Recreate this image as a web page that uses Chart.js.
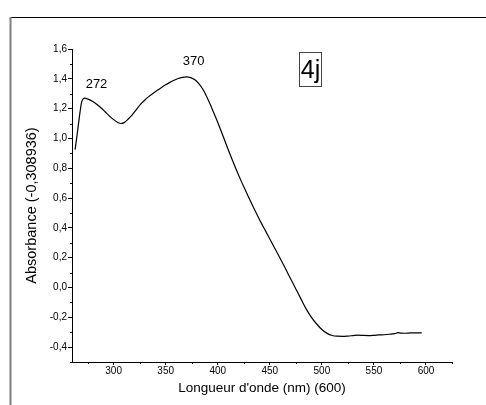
<!DOCTYPE html>
<html>
<head>
<meta charset="utf-8">
<script src="https://cdn.jsdelivr.net/npm/chart.js@4/dist/chart.umd.min.js"></script>
<style>
  html, body { margin: 0; padding: 0; background: #fff; }
  #wrap { width: 486px; height: 405px; position: relative; }
</style>
</head>
<body>
<div id="wrap"><canvas id="c" width="486" height="405"></canvas></div>
<script>
// UV-Vis spectrum of compound 4j
const wavelengths = [
  263, 265, 267, 269, 270, 272, 276, 280, 284, 288, 292, 296, 300, 304, 307,
  310, 314, 318, 322, 326, 330, 334, 338, 342, 346, 350, 354, 358, 362, 366,
  370, 374, 378, 382, 386, 390, 394, 398, 402, 406, 410, 414, 418, 422, 426,
  430, 434, 438, 442, 446, 450, 455, 460, 465, 470, 475, 480, 485, 490, 495,
  500, 505, 510, 515, 520, 525, 530, 535, 540, 545, 550, 555, 560, 565, 570,
  573, 576, 580, 585, 590, 596
];
const absorbance = [
  0.925, 1.03, 1.14, 1.235, 1.258, 1.27, 1.262, 1.248, 1.228, 1.204, 1.177, 1.15, 1.126, 1.107, 1.100,
  1.106, 1.13, 1.16, 1.195, 1.23, 1.258, 1.282, 1.303, 1.323, 1.342, 1.36, 1.376, 1.39, 1.402, 1.41,
  1.413, 1.408, 1.393, 1.366, 1.327, 1.272, 1.208, 1.142, 1.072, 0.999, 0.926, 0.855, 0.787, 0.722, 0.66,
  0.60, 0.542, 0.485, 0.43, 0.378, 0.325, 0.26, 0.195, 0.127, 0.058, -0.01, -0.078, -0.145, -0.2, -0.245,
  -0.282, -0.308, -0.322, -0.327, -0.328, -0.326, -0.323, -0.320, -0.322, -0.323, -0.321, -0.318, -0.317, -0.314, -0.310,
  -0.303, -0.306, -0.307, -0.305, -0.304, -0.304
];

// Absorption maxima marked on the curve
const peakWavelengths = [272, 370];

// Axis ticks
const xTicks = [300, 350, 400, 450, 500, 550, 600];
const xMinorTicks = [275, 325, 375, 425, 475, 525, 575, 625];
const yTicks = [-0.4, -0.2, 0, 0.2, 0.4, 0.6, 0.8, 1.0, 1.2, 1.4, 1.6];
const yTickLabels = ['-0,4', '-0,2', '0,0', '0,2', '0,4', '0,6', '0,8', '1,0', '1,2', '1,4', '1,6'];
const yMinorTicks = [-0.5, -0.3, -0.1, 0.1, 0.3, 0.5, 0.7, 0.9, 1.1, 1.3, 1.5];

const sampleName = '4j';
const FONT = '"Liberation Sans", Arial, sans-serif';

// Page frame, minor ticks, peak labels and the sample tag
const decorations = {
  id: 'decorations',
  beforeDraw(chart) {
    const ctx = chart.ctx;
    ctx.save();
    ctx.fillStyle = '#fff';
    ctx.fillRect(0, 0, chart.width, chart.height);
    ctx.restore();
  },
  afterDraw(chart) {
    const ctx = chart.ctx;
    const xs = chart.scales.x, ys = chart.scales.y;
    const area = chart.chartArea;
    ctx.save();
    // frame
    ctx.strokeStyle = '#000';
    ctx.lineWidth = 1;
    ctx.beginPath();
    ctx.moveTo(10, 17.5); ctx.lineTo(chart.width, 17.5);
    ctx.stroke();
    ctx.strokeStyle = '#808080';
    ctx.lineWidth = 2;
    ctx.beginPath();
    ctx.moveTo(10.5, 17); ctx.lineTo(10.5, chart.height);
    ctx.stroke();

    // minor ticks
    ctx.strokeStyle = '#000';
    ctx.lineWidth = 1;
    ctx.beginPath();
    xMinorTicks.forEach(v => {
      const px = Math.round(xs.getPixelForValue(v)) + 0.5;
      ctx.moveTo(px, area.bottom); ctx.lineTo(px, area.bottom + 2);
    });
    yMinorTicks.forEach(v => {
      const py = Math.round(ys.getPixelForValue(v)) + 0.5;
      ctx.moveTo(area.left, py); ctx.lineTo(area.left - 2, py);
    });
    ctx.stroke();

    // peak labels
    ctx.fillStyle = '#000';
    ctx.font = '13px ' + FONT;
    ctx.textAlign = 'center';
    ctx.textBaseline = 'middle';
    const offsets = [[12, -14], [7, -15]];
    peakWavelengths.forEach((w, i) => {
      const idx = wavelengths.indexOf(w);
      const px = xs.getPixelForValue(w);
      const py = ys.getPixelForValue(absorbance[idx]);
      ctx.fillText(String(w), px + offsets[i][0], py + offsets[i][1]);
    });

    // sample tag
    ctx.strokeStyle = '#444';
    ctx.lineWidth = 1;
    ctx.strokeRect(299.5, 52.5, 22, 34);
    ctx.font = '25px ' + FONT;
    ctx.fillText(sampleName, 310.5, 71);
    ctx.restore();
  }
};

const points = wavelengths.map((w, i) => ({ x: w, y: absorbance[i] }));

new Chart(document.getElementById('c'), {
  type: 'line',
  data: {
    datasets: [{
      data: points,
      borderColor: '#000',
      borderWidth: 1.2,
      pointRadius: 0,
      cubicInterpolationMode: 'monotone',
      fill: false
    }]
  },
  options: {
    responsive: false,
    animation: false,
    events: [],
    layout: { padding: { left: 19, top: 49, right: 34, bottom: 5 } },
    plugins: { legend: { display: false }, tooltip: { enabled: false } },
    scales: {
      x: {
        type: 'linear',
        min: 260,
        max: 625,
        afterBuildTicks: s => { s.ticks = xTicks.map(v => ({ value: v })); },
        afterFit: s => { s.height = 38; },
        ticks: {
          autoSkip: false,
          maxRotation: 0,
          padding: 0,
          color: '#000',
          font: { family: FONT, size: 10 },
          callback: v => String(v)
        },
        grid: { drawOnChartArea: false, drawTicks: true, tickLength: 3, color: '#000' },
        border: { display: true, color: '#000', width: 1 },
        title: {
          display: true,
          text: "Longueur d'onde (nm) (600)",
          color: '#000',
          font: { family: FONT, size: 13.5 },
          padding: { top: 4, bottom: 4 }
        }
      },
      y: {
        type: 'linear',
        min: -0.5,
        max: 1.6,
        afterBuildTicks: s => { s.ticks = yTicks.map(v => ({ value: v })); },
        afterFit: s => { s.width = 53; },
        ticks: {
          autoSkip: false,
          padding: 1,
          color: '#000',
          font: { family: FONT, size: 10 },
          callback: (v, i) => yTickLabels[i]
        },
        grid: { drawOnChartArea: false, drawTicks: true, tickLength: 4, color: '#000' },
        border: { display: true, color: '#000', width: 1 },
        title: {
          display: true,
          text: 'Absorbance (-0,308936)',
          color: '#000',
          font: { family: FONT, size: 14.5 },
          padding: { top: 4, bottom: 4 }
        }
      }
    }
  },
  plugins: [decorations]
});
</script>
</body>
</html>
